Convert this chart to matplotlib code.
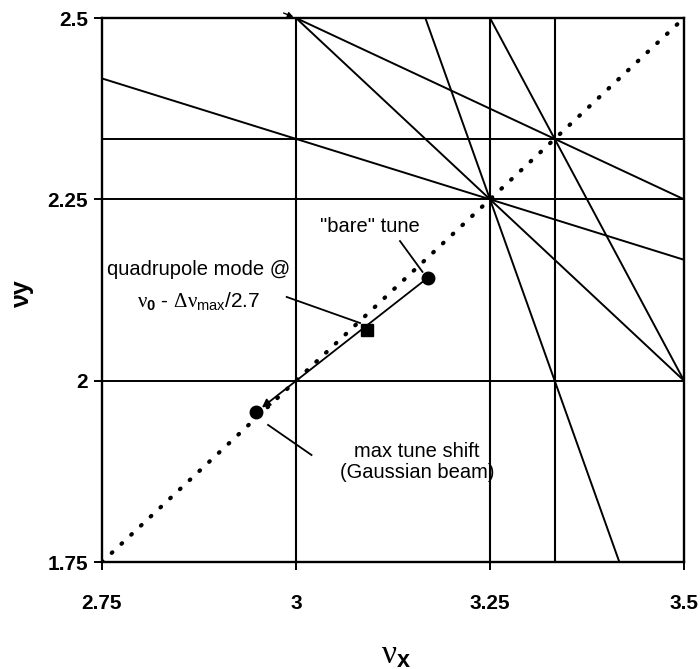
import numpy as np
import matplotlib
matplotlib.use('Agg')
import matplotlib.pyplot as plt

plt.rcParams['font.family'] = ['Liberation Sans', 'DejaVu Sans']
# upright serif greek in math text, like the original
plt.rcParams['mathtext.fontset'] = 'custom'
plt.rcParams['mathtext.rm'] = 'Liberation Serif'
plt.rcParams['mathtext.it'] = 'Liberation Serif'
plt.rcParams['mathtext.sf'] = 'Liberation Sans'
plt.rcParams['mathtext.bf'] = 'Liberation Sans:bold'

# axis ranges / ticks
x_ticks = [2.75, 3.0, 3.25, 3.5]
x_labels = ['2.75', '3', '3.25', '3.5']
y_ticks = [1.75, 2.0, 2.25, 2.5]
y_labels = ['1.75', '2', '2.25', '2.5']

# resonance lines a*nux + b*nuy = c
res_a = [1, 1, 1, 0, 0, 0, 1, 1, 1, 3, 2]
res_b = [0, 0, 0, 1, 1, 1, 3, 1, 2, 1, 1]
res_c = [3.0, 3.25, 10/3., 2.0, 2.25, 7/3., 10.0, 5.5, 8.0, 12.0, 9.0]

# coupling diagonal nuy = nux - 1
diag_x = [2.75, 3.5]
diag_y = [1.75, 2.5]

# tune points: bare, quadrupole mode, max tune shift
tune_x = [3.170, 3.091, 2.949]
tune_y = [2.142, 2.070, 1.957]

fig = plt.figure(figsize=(7, 6.69), dpi=100)
ax = fig.add_axes([102/700., 1-562/669., 582/700., 544/669.])
ax.set_xlim(2.75, 3.5)
ax.set_ylim(1.75, 2.5)

xs = np.array([2.75, 3.5])
for a, b, c in zip(res_a, res_b, res_c):
    if b == 0:
        ax.plot([c/a, c/a], [1.75, 2.5], color='black', lw=1.5)
    else:
        ax.plot(xs, (c - a*xs)/b, color='black', lw=1.4)

ax.plot(diag_x, diag_y, color='black', lw=3.0, linestyle=(0, (0.2, 3.0)),
        dash_capstyle='round')

# tune shift arrow
ax.annotate('', xy=(tune_x[2], tune_y[2]), xytext=(tune_x[0], tune_y[0]),
            arrowprops=dict(arrowstyle='-|>', lw=1.3, color='black',
                            shrinkA=5, shrinkB=5, mutation_scale=12))
ax.plot(tune_x[0], tune_y[0], 'o', color='black', ms=9)
ax.plot(tune_x[1], tune_y[1], 's', color='black', ms=8.5)
ax.plot(tune_x[2], tune_y[2], 'o', color='black', ms=9)

# labels with leaders
ax.text(3.095, 2.213, '"bare" tune', fontsize=14.5, ha='center', va='center')
ax.plot([3.134, 3.163], [2.1925, 2.150], color='black', lw=1.3)

ax.text(2.874, 2.153, 'quadrupole mode @', fontsize=14.5, ha='center', va='center')
ax.text(2.875, 2.110, r'$\nu_\mathbf{0}$ - $\Delta\nu_{\mathsf{max}}$/2.7',
        fontsize=15, ha='center', va='center')
ax.plot([2.988, 3.0825], [2.1154, 2.0795], color='black', lw=1.3)

ax.text(3.156, 1.902, 'max tune shift', fontsize=14.5, ha='center', va='center')
ax.text(3.156, 1.873, '(Gaussian beam)', fontsize=14.5, ha='center', va='center')
ax.plot([2.964, 3.020], [1.939, 1.8975], color='black', lw=1.3)

# stray little arrow at top of the plot
ax.annotate('', xy=(3.0, 2.5), xytext=(-15, 6), textcoords='offset pixels',
            arrowprops=dict(arrowstyle='-|>', lw=1.0, color='black', mutation_scale=8),
            annotation_clip=False)

ax.set_xticks(x_ticks)
ax.set_xticklabels(x_labels, fontsize=15, fontweight='bold')
ax.set_yticks(y_ticks)
ax.set_yticklabels(y_labels, fontsize=15, fontweight='bold')
ax.tick_params(axis='x', direction='out', length=6, width=1.4, pad=17)
ax.tick_params(axis='y', direction='out', length=6, width=1.4, pad=4)
for s in ax.spines.values():
    s.set_linewidth(1.7)

fig.text(396/700., 1-655/669., r'$\nu_{\mathbf{x}}$', fontsize=24, ha='center',
         va='center')
fig.text(22/700., 1-293/669., 'νy', fontsize=18, fontweight='bold', rotation=90,
         ha='center', va='center')

fig.savefig('out.png', dpi=100)
